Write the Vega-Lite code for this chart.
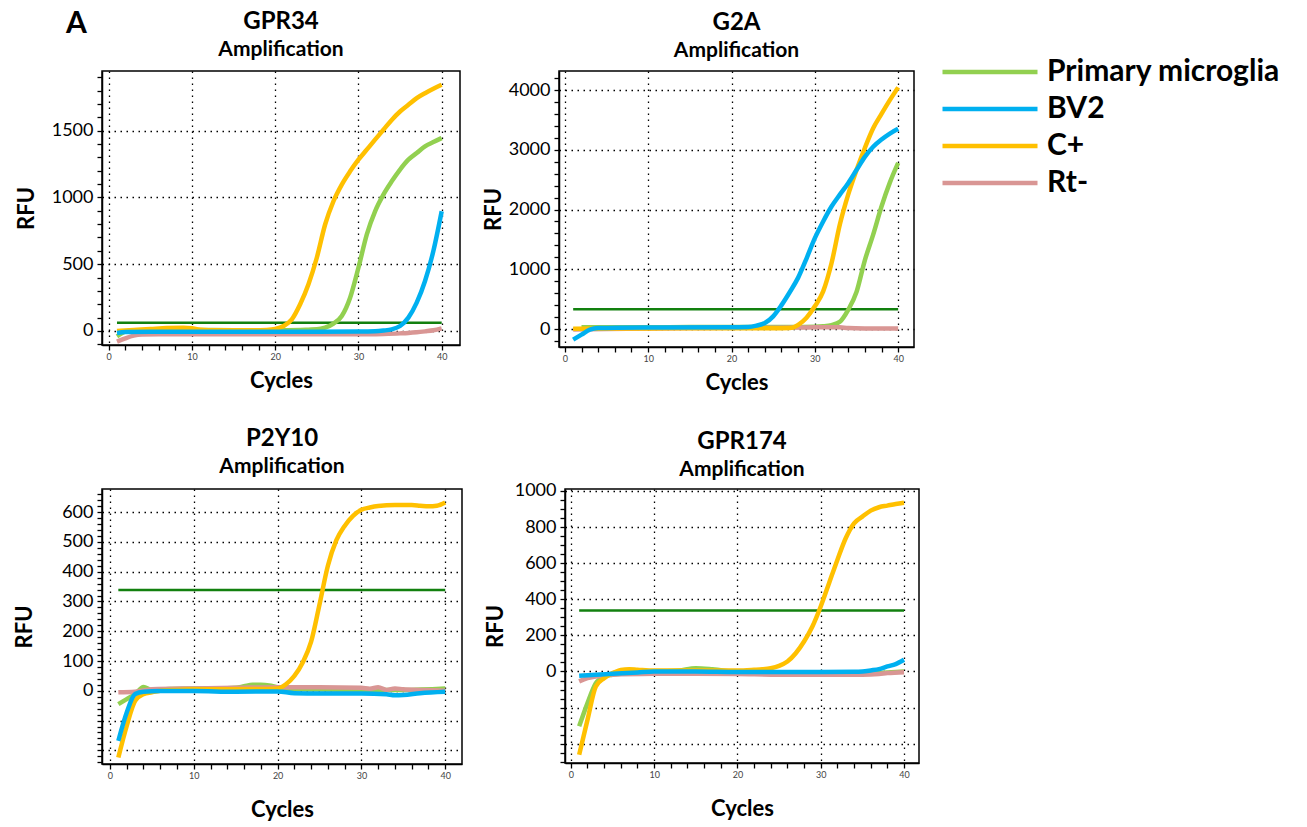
{
  "$schema": "https://vega.github.io/schema/vega-lite/v6.json",
  "background": "white",
  "padding": {"left": 12, "top": 9, "right": 5, "bottom": 5},
  "title": {"text": "A", "anchor": "start", "frame": "group", "fontSize": 30, "font": "Lato", "fontWeight": "bold", "color": "black", "dx": -36, "dy": 30, "offset": 0},
  "config": {
    "font": "Lato",
    "view": {"stroke": "black", "strokeWidth": 1.5},
    "title": {"font": "Lato", "fontSize": 24, "fontWeight": "bold", "color": "black", "subtitleFont": "Lato", "subtitleFontSize": 21, "subtitleFontWeight": "bold", "subtitleColor": "black", "subtitlePadding": 5, "offset": 8, "anchor": "middle", "frame": "group"},
    "axis": {"labelFont": "Lato", "labelFontSize": 18, "labelColor": "black", "titleFont": "Lato", "titleFontSize": 22, "titleFontWeight": "bold", "titleColor": "black", "gridColor": "black", "gridDash": [1.5, 4.5], "gridWidth": 1.3, "tickColor": "black", "tickSize": 5, "tickWidth": 1.3, "domainColor": "black", "domainWidth": 1.5, "labelOverlap": false, "labelFlush": false, "labelBound": false},
    "axisX": {"labelFontSize": 9, "labelColor": "#444444", "labelPadding": 2},
    "axisY": {"labelPadding": 4},
    "legend": {"title": null, "symbolType": "M-5,0H5", "symbolSize": 361, "symbolStrokeWidth": 4.5, "labelFont": "Lato", "labelFontSize": 30, "labelFontWeight": "bold", "labelColor": "black", "rowPadding": 7, "labelOffset": 42, "labelLimit": 400}
  },
  "datasets": {
    "thr": [
      {"g": "GPR34", "c": 1, "c2": 40, "v": 62},
      {"g": "G2A", "c": 1, "c2": 40, "v": 330},
      {"g": "P2Y10", "c": 1, "c2": 40, "v": 339},
      {"g": "GPR174", "c": 1, "c2": 40, "v": 338}
    ],
    "curves": [
      {"g":"GPR34","s":"Primary microglia","c":1,"v":-40},{"g":"GPR34","s":"Primary microglia","c":2,"v":-5},{"g":"GPR34","s":"Primary microglia","c":3,"v":5},{"g":"GPR34","s":"Primary microglia","c":5,"v":8},{"g":"GPR34","s":"Primary microglia","c":10,"v":8},{"g":"GPR34","s":"Primary microglia","c":15,"v":6},{"g":"GPR34","s":"Primary microglia","c":20,"v":6},{"g":"GPR34","s":"Primary microglia","c":23,"v":8},{"g":"GPR34","s":"Primary microglia","c":24,"v":10},{"g":"GPR34","s":"Primary microglia","c":25,"v":12},{"g":"GPR34","s":"Primary microglia","c":26,"v":25},{"g":"GPR34","s":"Primary microglia","c":27,"v":55},{"g":"GPR34","s":"Primary microglia","c":28,"v":112},{"g":"GPR34","s":"Primary microglia","c":29,"v":249},{"g":"GPR34","s":"Primary microglia","c":30,"v":473},{"g":"GPR34","s":"Primary microglia","c":31,"v":722},{"g":"GPR34","s":"Primary microglia","c":32,"v":896},{"g":"GPR34","s":"Primary microglia","c":33,"v":1021},{"g":"GPR34","s":"Primary microglia","c":34,"v":1120},{"g":"GPR34","s":"Primary microglia","c":35,"v":1208},{"g":"GPR34","s":"Primary microglia","c":36,"v":1282},{"g":"GPR34","s":"Primary microglia","c":37,"v":1332},{"g":"GPR34","s":"Primary microglia","c":38,"v":1382},{"g":"GPR34","s":"Primary microglia","c":39,"v":1414},{"g":"GPR34","s":"Primary microglia","c":40,"v":1444},
      {"g":"GPR34","s":"Rt-","c":1,"v":-80},{"g":"GPR34","s":"Rt-","c":2,"v":-55},{"g":"GPR34","s":"Rt-","c":3,"v":-35},{"g":"GPR34","s":"Rt-","c":4,"v":-27},{"g":"GPR34","s":"Rt-","c":6,"v":-25},{"g":"GPR34","s":"Rt-","c":10,"v":-25},{"g":"GPR34","s":"Rt-","c":15,"v":-25},{"g":"GPR34","s":"Rt-","c":20,"v":-25},{"g":"GPR34","s":"Rt-","c":25,"v":-25},{"g":"GPR34","s":"Rt-","c":30,"v":-25},{"g":"GPR34","s":"Rt-","c":33,"v":-22},{"g":"GPR34","s":"Rt-","c":35,"v":-18},{"g":"GPR34","s":"Rt-","c":36,"v":-15},{"g":"GPR34","s":"Rt-","c":37,"v":-10},{"g":"GPR34","s":"Rt-","c":38,"v":-3},{"g":"GPR34","s":"Rt-","c":39,"v":5},{"g":"GPR34","s":"Rt-","c":40,"v":20},
      {"g":"GPR34","s":"C+","c":1,"v":0},{"g":"GPR34","s":"C+","c":3,"v":8},{"g":"GPR34","s":"C+","c":5,"v":15},{"g":"GPR34","s":"C+","c":7,"v":22},{"g":"GPR34","s":"C+","c":9,"v":25},{"g":"GPR34","s":"C+","c":10,"v":20},{"g":"GPR34","s":"C+","c":11,"v":10},{"g":"GPR34","s":"C+","c":13,"v":5},{"g":"GPR34","s":"C+","c":15,"v":5},{"g":"GPR34","s":"C+","c":17,"v":5},{"g":"GPR34","s":"C+","c":19,"v":8},{"g":"GPR34","s":"C+","c":20,"v":15},{"g":"GPR34","s":"C+","c":21,"v":37},{"g":"GPR34","s":"C+","c":22,"v":87},{"g":"GPR34","s":"C+","c":23,"v":200},{"g":"GPR34","s":"C+","c":24,"v":350},{"g":"GPR34","s":"C+","c":25,"v":548},{"g":"GPR34","s":"C+","c":26,"v":797},{"g":"GPR34","s":"C+","c":27,"v":971},{"g":"GPR34","s":"C+","c":28,"v":1096},{"g":"GPR34","s":"C+","c":29,"v":1195},{"g":"GPR34","s":"C+","c":30,"v":1282},{"g":"GPR34","s":"C+","c":31,"v":1357},{"g":"GPR34","s":"C+","c":32,"v":1432},{"g":"GPR34","s":"C+","c":33,"v":1506},{"g":"GPR34","s":"C+","c":34,"v":1580},{"g":"GPR34","s":"C+","c":35,"v":1643},{"g":"GPR34","s":"C+","c":36,"v":1693},{"g":"GPR34","s":"C+","c":37,"v":1743},{"g":"GPR34","s":"C+","c":38,"v":1780},{"g":"GPR34","s":"C+","c":39,"v":1813},{"g":"GPR34","s":"C+","c":40,"v":1843},
      {"g":"GPR34","s":"BV2","c":1,"v":-15},{"g":"GPR34","s":"BV2","c":2,"v":-8},{"g":"GPR34","s":"BV2","c":5,"v":-5},{"g":"GPR34","s":"BV2","c":10,"v":-5},{"g":"GPR34","s":"BV2","c":15,"v":-5},{"g":"GPR34","s":"BV2","c":20,"v":-5},{"g":"GPR34","s":"BV2","c":25,"v":-5},{"g":"GPR34","s":"BV2","c":30,"v":-4},{"g":"GPR34","s":"BV2","c":32,"v":-2},{"g":"GPR34","s":"BV2","c":33,"v":3},{"g":"GPR34","s":"BV2","c":34,"v":12},{"g":"GPR34","s":"BV2","c":35,"v":37},{"g":"GPR34","s":"BV2","c":36,"v":100},{"g":"GPR34","s":"BV2","c":37,"v":212},{"g":"GPR34","s":"BV2","c":38,"v":374},{"g":"GPR34","s":"BV2","c":39,"v":598},{"g":"GPR34","s":"BV2","c":40,"v":896},

      {"g":"G2A","s":"Primary microglia","c":2,"v":28},{"g":"G2A","s":"Primary microglia","c":5,"v":30},{"g":"G2A","s":"Primary microglia","c":10,"v":30},{"g":"G2A","s":"Primary microglia","c":15,"v":32},{"g":"G2A","s":"Primary microglia","c":20,"v":32},{"g":"G2A","s":"Primary microglia","c":25,"v":32},{"g":"G2A","s":"Primary microglia","c":28,"v":35},{"g":"G2A","s":"Primary microglia","c":30,"v":38},{"g":"G2A","s":"Primary microglia","c":31,"v":45},{"g":"G2A","s":"Primary microglia","c":32,"v":65},{"g":"G2A","s":"Primary microglia","c":33,"v":120},{"g":"G2A","s":"Primary microglia","c":34,"v":320},{"g":"G2A","s":"Primary microglia","c":35,"v":620},{"g":"G2A","s":"Primary microglia","c":36,"v":1150},{"g":"G2A","s":"Primary microglia","c":37,"v":1580},{"g":"G2A","s":"Primary microglia","c":38,"v":2050},{"g":"G2A","s":"Primary microglia","c":39,"v":2450},{"g":"G2A","s":"Primary microglia","c":40,"v":2780},
      {"g":"G2A","s":"Rt-","c":1,"v":-10},{"g":"G2A","s":"Rt-","c":5,"v":0},{"g":"G2A","s":"Rt-","c":10,"v":10},{"g":"G2A","s":"Rt-","c":15,"v":15},{"g":"G2A","s":"Rt-","c":20,"v":20},{"g":"G2A","s":"Rt-","c":25,"v":22},{"g":"G2A","s":"Rt-","c":28,"v":25},{"g":"G2A","s":"Rt-","c":30,"v":28},{"g":"G2A","s":"Rt-","c":32,"v":30},{"g":"G2A","s":"Rt-","c":33,"v":28},{"g":"G2A","s":"Rt-","c":34,"v":15},{"g":"G2A","s":"Rt-","c":36,"v":10},{"g":"G2A","s":"Rt-","c":40,"v":8},
      {"g":"G2A","s":"C+","c":1,"v":5},{"g":"G2A","s":"C+","c":5,"v":8},{"g":"G2A","s":"C+","c":10,"v":10},{"g":"G2A","s":"C+","c":15,"v":12},{"g":"G2A","s":"C+","c":20,"v":12},{"g":"G2A","s":"C+","c":25,"v":12},{"g":"G2A","s":"C+","c":27,"v":15},{"g":"G2A","s":"C+","c":28,"v":70},{"g":"G2A","s":"C+","c":29,"v":190},{"g":"G2A","s":"C+","c":30,"v":380},{"g":"G2A","s":"C+","c":31,"v":630},{"g":"G2A","s":"C+","c":32,"v":1100},{"g":"G2A","s":"C+","c":33,"v":1750},{"g":"G2A","s":"C+","c":34,"v":2250},{"g":"G2A","s":"C+","c":35,"v":2660},{"g":"G2A","s":"C+","c":36,"v":3030},{"g":"G2A","s":"C+","c":37,"v":3360},{"g":"G2A","s":"C+","c":38,"v":3600},{"g":"G2A","s":"C+","c":39,"v":3830},{"g":"G2A","s":"C+","c":40,"v":4044},
      {"g":"G2A","s":"BV2","c":1,"v":-178},{"g":"G2A","s":"BV2","c":2,"v":-95},{"g":"G2A","s":"BV2","c":3,"v":-11},{"g":"G2A","s":"BV2","c":4,"v":15},{"g":"G2A","s":"BV2","c":10,"v":25},{"g":"G2A","s":"BV2","c":20,"v":30},{"g":"G2A","s":"BV2","c":22,"v":33},{"g":"G2A","s":"BV2","c":23,"v":56},{"g":"G2A","s":"BV2","c":24,"v":100},{"g":"G2A","s":"BV2","c":25,"v":212},{"g":"G2A","s":"BV2","c":26,"v":400},{"g":"G2A","s":"BV2","c":27,"v":620},{"g":"G2A","s":"BV2","c":28,"v":860},{"g":"G2A","s":"BV2","c":29,"v":1180},{"g":"G2A","s":"BV2","c":30,"v":1520},{"g":"G2A","s":"BV2","c":31,"v":1800},{"g":"G2A","s":"BV2","c":32,"v":2050},{"g":"G2A","s":"BV2","c":33,"v":2250},{"g":"G2A","s":"BV2","c":34,"v":2440},{"g":"G2A","s":"BV2","c":35,"v":2660},{"g":"G2A","s":"BV2","c":36,"v":2880},{"g":"G2A","s":"BV2","c":37,"v":3050},{"g":"G2A","s":"BV2","c":38,"v":3170},{"g":"G2A","s":"BV2","c":39,"v":3270},{"g":"G2A","s":"BV2","c":40,"v":3350},

      {"g":"P2Y10","s":"Primary microglia","c":1,"v":-45},{"g":"P2Y10","s":"Primary microglia","c":2,"v":-28},{"g":"P2Y10","s":"Primary microglia","c":3,"v":-11},{"g":"P2Y10","s":"Primary microglia","c":4,"v":13},{"g":"P2Y10","s":"Primary microglia","c":5,"v":3},{"g":"P2Y10","s":"Primary microglia","c":7,"v":6},{"g":"P2Y10","s":"Primary microglia","c":10,"v":8},{"g":"P2Y10","s":"Primary microglia","c":13,"v":8},{"g":"P2Y10","s":"Primary microglia","c":15,"v":10},{"g":"P2Y10","s":"Primary microglia","c":16,"v":15},{"g":"P2Y10","s":"Primary microglia","c":17,"v":20},{"g":"P2Y10","s":"Primary microglia","c":18,"v":20},{"g":"P2Y10","s":"Primary microglia","c":19,"v":18},{"g":"P2Y10","s":"Primary microglia","c":20,"v":12},{"g":"P2Y10","s":"Primary microglia","c":22,"v":6},{"g":"P2Y10","s":"Primary microglia","c":25,"v":4},{"g":"P2Y10","s":"Primary microglia","c":30,"v":3},{"g":"P2Y10","s":"Primary microglia","c":35,"v":3},{"g":"P2Y10","s":"Primary microglia","c":40,"v":8},
      {"g":"P2Y10","s":"Rt-","c":1,"v":-5},{"g":"P2Y10","s":"Rt-","c":3,"v":-3},{"g":"P2Y10","s":"Rt-","c":5,"v":5},{"g":"P2Y10","s":"Rt-","c":10,"v":8},{"g":"P2Y10","s":"Rt-","c":15,"v":10},{"g":"P2Y10","s":"Rt-","c":20,"v":12},{"g":"P2Y10","s":"Rt-","c":25,"v":12},{"g":"P2Y10","s":"Rt-","c":30,"v":10},{"g":"P2Y10","s":"Rt-","c":31,"v":7},{"g":"P2Y10","s":"Rt-","c":32,"v":12},{"g":"P2Y10","s":"Rt-","c":33,"v":3},{"g":"P2Y10","s":"Rt-","c":34,"v":8},{"g":"P2Y10","s":"Rt-","c":35,"v":5},{"g":"P2Y10","s":"Rt-","c":37,"v":3},{"g":"P2Y10","s":"Rt-","c":40,"v":0},
      {"g":"P2Y10","s":"C+","c":1,"v":-224},{"g":"P2Y10","s":"C+","c":2,"v":-118},{"g":"P2Y10","s":"C+","c":3,"v":-34},{"g":"P2Y10","s":"C+","c":4,"v":-11},{"g":"P2Y10","s":"C+","c":5,"v":-5},{"g":"P2Y10","s":"C+","c":6,"v":0},{"g":"P2Y10","s":"C+","c":8,"v":3},{"g":"P2Y10","s":"C+","c":10,"v":5},{"g":"P2Y10","s":"C+","c":14,"v":5},{"g":"P2Y10","s":"C+","c":18,"v":6},{"g":"P2Y10","s":"C+","c":20,"v":8},{"g":"P2Y10","s":"C+","c":21,"v":22},{"g":"P2Y10","s":"C+","c":22,"v":50},{"g":"P2Y10","s":"C+","c":23,"v":95},{"g":"P2Y10","s":"C+","c":24,"v":165},{"g":"P2Y10","s":"C+","c":25,"v":290},{"g":"P2Y10","s":"C+","c":26,"v":420},{"g":"P2Y10","s":"C+","c":27,"v":505},{"g":"P2Y10","s":"C+","c":28,"v":554},{"g":"P2Y10","s":"C+","c":29,"v":588},{"g":"P2Y10","s":"C+","c":30,"v":608},{"g":"P2Y10","s":"C+","c":31,"v":616},{"g":"P2Y10","s":"C+","c":32,"v":621},{"g":"P2Y10","s":"C+","c":34,"v":624},{"g":"P2Y10","s":"C+","c":36,"v":624},{"g":"P2Y10","s":"C+","c":37,"v":622},{"g":"P2Y10","s":"C+","c":38,"v":620},{"g":"P2Y10","s":"C+","c":39,"v":622},{"g":"P2Y10","s":"C+","c":40,"v":633},
      {"g":"P2Y10","s":"BV2","c":1,"v":-168},{"g":"P2Y10","s":"BV2","c":2,"v":-73},{"g":"P2Y10","s":"BV2","c":3,"v":-11},{"g":"P2Y10","s":"BV2","c":4,"v":-3},{"g":"P2Y10","s":"BV2","c":6,"v":-1},{"g":"P2Y10","s":"BV2","c":10,"v":-1},{"g":"P2Y10","s":"BV2","c":15,"v":-3},{"g":"P2Y10","s":"BV2","c":20,"v":-2},{"g":"P2Y10","s":"BV2","c":22,"v":-8},{"g":"P2Y10","s":"BV2","c":25,"v":-9},{"g":"P2Y10","s":"BV2","c":30,"v":-9},{"g":"P2Y10","s":"BV2","c":33,"v":-12},{"g":"P2Y10","s":"BV2","c":34,"v":-15},{"g":"P2Y10","s":"BV2","c":35,"v":-14},{"g":"P2Y10","s":"BV2","c":37,"v":-8},{"g":"P2Y10","s":"BV2","c":40,"v":-3},

      {"g":"GPR174","s":"Primary microglia","c":1,"v":-304},{"g":"GPR174","s":"Primary microglia","c":2,"v":-175},{"g":"GPR174","s":"Primary microglia","c":3,"v":-65},{"g":"GPR174","s":"Primary microglia","c":4,"v":-28},{"g":"GPR174","s":"Primary microglia","c":5,"v":-18},{"g":"GPR174","s":"Primary microglia","c":7,"v":-10},{"g":"GPR174","s":"Primary microglia","c":10,"v":-3},{"g":"GPR174","s":"Primary microglia","c":13,"v":5},{"g":"GPR174","s":"Primary microglia","c":15,"v":18},{"g":"GPR174","s":"Primary microglia","c":17,"v":12},{"g":"GPR174","s":"Primary microglia","c":20,"v":-4},{"g":"GPR174","s":"Primary microglia","c":23,"v":-10},{"g":"GPR174","s":"Primary microglia","c":25,"v":-13},{"g":"GPR174","s":"Primary microglia","c":30,"v":-14},{"g":"GPR174","s":"Primary microglia","c":35,"v":-13},{"g":"GPR174","s":"Primary microglia","c":38,"v":-5},{"g":"GPR174","s":"Primary microglia","c":40,"v":0},
      {"g":"GPR174","s":"Rt-","c":1,"v":-55},{"g":"GPR174","s":"Rt-","c":2,"v":-37},{"g":"GPR174","s":"Rt-","c":3,"v":-28},{"g":"GPR174","s":"Rt-","c":5,"v":-18},{"g":"GPR174","s":"Rt-","c":10,"v":-13},{"g":"GPR174","s":"Rt-","c":15,"v":-12},{"g":"GPR174","s":"Rt-","c":20,"v":-14},{"g":"GPR174","s":"Rt-","c":25,"v":-18},{"g":"GPR174","s":"Rt-","c":30,"v":-18},{"g":"GPR174","s":"Rt-","c":35,"v":-18},{"g":"GPR174","s":"Rt-","c":37,"v":-14},{"g":"GPR174","s":"Rt-","c":38,"v":-9},{"g":"GPR174","s":"Rt-","c":40,"v":-4},
      {"g":"GPR174","s":"C+","c":1,"v":-461},{"g":"GPR174","s":"C+","c":2,"v":-268},{"g":"GPR174","s":"C+","c":3,"v":-83},{"g":"GPR174","s":"C+","c":4,"v":-37},{"g":"GPR174","s":"C+","c":5,"v":-9},{"g":"GPR174","s":"C+","c":6,"v":9},{"g":"GPR174","s":"C+","c":7,"v":13},{"g":"GPR174","s":"C+","c":8,"v":10},{"g":"GPR174","s":"C+","c":10,"v":5},{"g":"GPR174","s":"C+","c":15,"v":5},{"g":"GPR174","s":"C+","c":20,"v":5},{"g":"GPR174","s":"C+","c":22,"v":9},{"g":"GPR174","s":"C+","c":23,"v":12},{"g":"GPR174","s":"C+","c":24,"v":18},{"g":"GPR174","s":"C+","c":25,"v":31},{"g":"GPR174","s":"C+","c":26,"v":55},{"g":"GPR174","s":"C+","c":27,"v":101},{"g":"GPR174","s":"C+","c":28,"v":166},{"g":"GPR174","s":"C+","c":29,"v":249},{"g":"GPR174","s":"C+","c":30,"v":360},{"g":"GPR174","s":"C+","c":31,"v":489},{"g":"GPR174","s":"C+","c":32,"v":618},{"g":"GPR174","s":"C+","c":33,"v":738},{"g":"GPR174","s":"C+","c":34,"v":821},{"g":"GPR174","s":"C+","c":35,"v":858},{"g":"GPR174","s":"C+","c":36,"v":891},{"g":"GPR174","s":"C+","c":37,"v":910},{"g":"GPR174","s":"C+","c":38,"v":919},{"g":"GPR174","s":"C+","c":39,"v":928},{"g":"GPR174","s":"C+","c":40,"v":935},
      {"g":"GPR174","s":"BV2","c":1,"v":-24},{"g":"GPR174","s":"BV2","c":3,"v":-18},{"g":"GPR174","s":"BV2","c":5,"v":-13},{"g":"GPR174","s":"BV2","c":8,"v":-5},{"g":"GPR174","s":"BV2","c":10,"v":0},{"g":"GPR174","s":"BV2","c":15,"v":0},{"g":"GPR174","s":"BV2","c":20,"v":-3},{"g":"GPR174","s":"BV2","c":25,"v":-3},{"g":"GPR174","s":"BV2","c":30,"v":-3},{"g":"GPR174","s":"BV2","c":34,"v":-2},{"g":"GPR174","s":"BV2","c":35,"v":0},{"g":"GPR174","s":"BV2","c":36,"v":6},{"g":"GPR174","s":"BV2","c":37,"v":13},{"g":"GPR174","s":"BV2","c":38,"v":28},{"g":"GPR174","s":"BV2","c":39,"v":41},{"g":"GPR174","s":"BV2","c":40,"v":65}
    ]
  },
  "spacing": 32,
  "vconcat": [
    {
      "spacing": 20,
      "hconcat": [
        {
          "width": 358, "height": 274,
          "title": {"text": "GPR34", "subtitle": "Amplification"},
          "encoding": {
            "x": {"field": "c", "type": "quantitative", "scale": {"domain": [-0.8, 42.2], "nice": false, "zero": false},
                  "axis": {"title": "Cycles", "titlePadding": 9, "values": [0,2,4,6,8,10,12,14,16,18,20,22,24,26,28,30,32,34,36,38,40], "labelExpr": "datum.value % 10 === 0 ? datum.label : ''", "gridOpacity": {"condition": {"test": "datum.value % 10 === 0", "value": 1}, "value": 0}}},
            "y": {"field": "v", "type": "quantitative", "scale": {"domain": [-105, 1946], "nice": false, "zero": false},
                  "axis": {"title": "RFU", "titlePadding": 13, "format": "d", "values": [-100,0,100,200,300,400,500,600,700,800,900,1000,1100,1200,1300,1400,1500,1600,1700,1800,1900], "labelExpr": "datum.value >= 0 && datum.value % 500 === 0 ? datum.label : ''", "gridOpacity": {"condition": {"test": "datum.value % 500 === 0", "value": 1}, "value": 0}}}
          },
          "layer": [
            {"data": {"name": "thr"}, "transform": [{"filter": "datum.g === 'GPR34'"}], "mark": {"type": "rule", "color": "#12800F", "strokeWidth": 2.5}, "encoding": {"x2": {"field": "c2"}}},
            {"data": {"name": "curves"}, "transform": [{"filter": "datum.g === 'GPR34'"}], "mark": {"type": "line", "strokeWidth": 4.5, "interpolate": "monotone", "clip": true},
             "encoding": {"color": {"field": "s", "type": "nominal", "scale": {"domain": ["Primary microglia", "BV2", "C+", "Rt-"], "range": ["#92D050", "#00B0F0", "#FFC000", "#D99694"]}, "legend": {"orient": "none", "legendX": 873, "legendY": -14}}}}
          ]
        },
        {
          "width": 355, "height": 276,
          "title": {"text": "G2A", "subtitle": "Amplification"},
          "encoding": {
            "x": {"field": "c", "type": "quantitative", "scale": {"domain": [-0.7, 41.9], "nice": false, "zero": false},
                  "axis": {"title": "Cycles", "titlePadding": 9, "values": [0,2,4,6,8,10,12,14,16,18,20,22,24,26,28,30,32,34,36,38,40], "labelExpr": "datum.value % 10 === 0 ? datum.label : ''", "gridOpacity": {"condition": {"test": "datum.value % 10 === 0", "value": 1}, "value": 0}}},
            "y": {"field": "v", "type": "quantitative", "scale": {"domain": [-301, 4318], "nice": false, "zero": false},
                  "axis": {"title": "RFU", "titlePadding": 3, "format": "d", "values": [-200,0,200,400,600,800,1000,1200,1400,1600,1800,2000,2200,2400,2600,2800,3000,3200,3400,3600,3800,4000,4200], "labelExpr": "datum.value >= 0 && datum.value % 1000 === 0 ? datum.label : ''", "gridOpacity": {"condition": {"test": "datum.value % 1000 === 0", "value": 1}, "value": 0}}}
          },
          "layer": [
            {"data": {"name": "thr"}, "transform": [{"filter": "datum.g === 'G2A'"}], "mark": {"type": "rule", "color": "#12800F", "strokeWidth": 2.5}, "encoding": {"x2": {"field": "c2"}}},
            {"data": {"name": "curves"}, "transform": [{"filter": "datum.g === 'G2A'"}], "mark": {"type": "line", "strokeWidth": 4.5, "interpolate": "monotone", "clip": true},
             "encoding": {"color": {"field": "s", "type": "nominal", "scale": {"domain": ["Primary microglia", "BV2", "C+", "Rt-"], "range": ["#92D050", "#00B0F0", "#FFC000", "#D99694"]}, "legend": {"orient": "none", "legendX": 873, "legendY": -14}}}}
          ]
        }
      ]
    },
    {
      "spacing": 20,
      "hconcat": [
        {
          "width": 360, "height": 275,
          "title": {"text": "P2Y10", "subtitle": "Amplification"},
          "encoding": {
            "x": {"field": "c", "type": "quantitative", "scale": {"domain": [-0.95, 42], "nice": false, "zero": false},
                  "axis": {"title": "Cycles", "titlePadding": 19, "values": [0,2,4,6,8,10,12,14,16,18,20,22,24,26,28,30,32,34,36,38,40], "labelExpr": "datum.value % 10 === 0 ? datum.label : ''", "gridOpacity": {"condition": {"test": "datum.value % 10 === 0", "value": 1}, "value": 0}}},
            "y": {"field": "v", "type": "quantitative", "scale": {"domain": [-246, 678], "nice": false, "zero": false},
                  "axis": {"title": "RFU", "titlePadding": 25, "format": "d", "values": [-240,-220,-200,-180,-160,-140,-120,-100,-80,-60,-40,-20,0,20,40,60,80,100,120,140,160,180,200,220,240,260,280,300,320,340,360,380,400,420,440,460,480,500,520,540,560,580,600,620,640,660], "labelExpr": "datum.value >= 0 && datum.value % 100 === 0 ? datum.label : ''", "gridOpacity": {"condition": {"test": "datum.value % 100 === 0", "value": 1}, "value": 0}}}
          },
          "layer": [
            {"data": {"name": "thr"}, "transform": [{"filter": "datum.g === 'P2Y10'"}], "mark": {"type": "rule", "color": "#12800F", "strokeWidth": 2.5}, "encoding": {"x2": {"field": "c2"}}},
            {"data": {"name": "curves"}, "transform": [{"filter": "datum.g === 'P2Y10'"}], "mark": {"type": "line", "strokeWidth": 4.5, "interpolate": "monotone", "clip": true},
             "encoding": {"color": {"field": "s", "type": "nominal", "scale": {"domain": ["Primary microglia", "BV2", "C+", "Rt-"], "range": ["#92D050", "#00B0F0", "#FFC000", "#D99694"]}, "legend": {"orient": "none", "legendX": 873, "legendY": -14}}}}
          ]
        },
        {
          "width": 354, "height": 274,
          "title": {"text": "GPR174", "subtitle": "Amplification", "offset": 2},
          "encoding": {
            "x": {"field": "c", "type": "quantitative", "scale": {"domain": [-0.7, 41.8], "nice": false, "zero": false},
                  "axis": {"title": "Cycles", "titlePadding": 19, "values": [0,2,4,6,8,10,12,14,16,18,20,22,24,26,28,30,32,34,36,38,40], "labelExpr": "datum.value % 10 === 0 ? datum.label : ''", "gridOpacity": {"condition": {"test": "datum.value % 10 === 0", "value": 1}, "value": 0}}},
            "y": {"field": "v", "type": "quantitative", "scale": {"domain": [-507, 1011], "nice": false, "zero": false},
                  "axis": {"title": "RFU", "titlePadding": 7, "format": "d", "values": [-500,-450,-400,-350,-300,-250,-200,-150,-100,-50,0,50,100,150,200,250,300,350,400,450,500,550,600,650,700,750,800,850,900,950,1000], "labelExpr": "datum.value >= 0 && datum.value % 200 === 0 ? datum.label : ''", "gridOpacity": {"condition": {"test": "datum.value % 200 === 0", "value": 1}, "value": 0}}}
          },
          "layer": [
            {"data": {"name": "thr"}, "transform": [{"filter": "datum.g === 'GPR174'"}], "mark": {"type": "rule", "color": "#12800F", "strokeWidth": 2.5}, "encoding": {"x2": {"field": "c2"}}},
            {"data": {"name": "curves"}, "transform": [{"filter": "datum.g === 'GPR174'"}], "mark": {"type": "line", "strokeWidth": 4.5, "interpolate": "monotone", "clip": true},
             "encoding": {"color": {"field": "s", "type": "nominal", "scale": {"domain": ["Primary microglia", "BV2", "C+", "Rt-"], "range": ["#92D050", "#00B0F0", "#FFC000", "#D99694"]}, "legend": {"orient": "none", "legendX": 873, "legendY": -14}}}}
          ]
        }
      ]
    }
  ]
}
